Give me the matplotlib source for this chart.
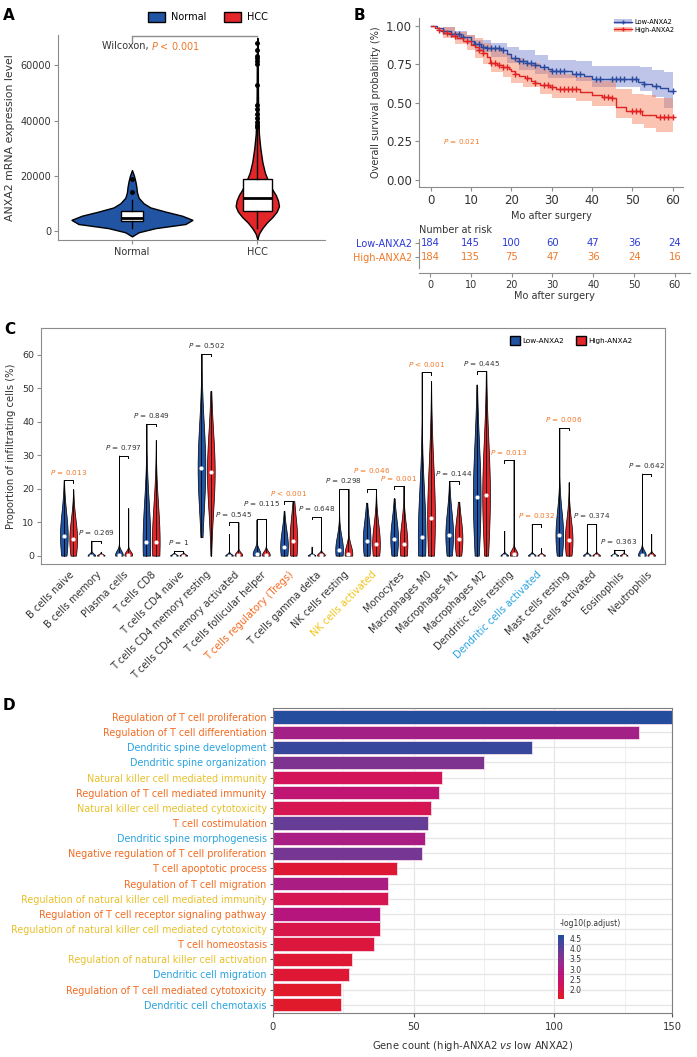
import numpy as np
import matplotlib
matplotlib.use('Agg')
import matplotlib.pyplot as plt
from matplotlib.patches import Patch
from matplotlib.lines import Line2D
from matplotlib.colors import LinearSegmentedColormap, Normalize
import matplotlib.cm as cm

plt.rcParams['font.family'] = ['DejaVu Sans']
plt.rcParams['mathtext.fontset'] = 'dejavusans'

# ---------------- data ----------------
# Panel A
a_groups = ['Normal', 'HCC']
normal_levels = [-2000, -500, 1000, 2500, 4000, 5500, 7000, 8500, 10000, 12000, 14000, 16000, 18000, 20000, 22000]
normal_halfw = [0, 0.053, 0.187, 0.427, 0.483, 0.40, 0.267, 0.147, 0.093, 0.053, 0.040, 0.035, 0.027, 0.016, 0]
hcc_levels = [-3000, -1000, 1000, 3000, 5000, 7000, 9000, 11000, 13000, 15000, 18000, 21000, 25000,
              30000, 35000, 40000, 50000, 60000, 70000]
hcc_halfw = [0, 0.013, 0.04, 0.075, 0.12, 0.155, 0.173, 0.165, 0.147, 0.12, 0.088, 0.061, 0.04,
             0.024, 0.013, 0.008, 0.005, 0.004, 0]
normal_box = dict(q1=3600, med=4600, q3=7350, whislo=1200, whishi=11200, fliers=[14000, 18700])
hcc_box = dict(q1=7350, med=12050, q3=18800, whislo=1200, whishi=36500,
               fliers=[37500, 38500, 39500, 41000, 42500, 44000, 45500, 53000, 60500, 61500, 62500, 63500, 65500, 68000])

# Panel B (Kaplan-Meier)
low_t = [0, 1.5, 3, 5, 7.5, 10, 10.8, 12.5, 14, 17.5, 19, 20, 22, 24, 26, 27, 29, 30, 35, 38, 40, 51.5, 53, 55, 57, 59, 60]
low_s = [1.0, 0.985, 0.965, 0.945, 0.925, 0.90, 0.88, 0.865, 0.853, 0.84, 0.815, 0.79, 0.77, 0.758, 0.745,
         0.733, 0.72, 0.708, 0.69, 0.675, 0.655, 0.637, 0.625, 0.609, 0.594, 0.577, 0.577]
high_t = [0, 1, 2, 3, 5, 6.5, 8, 10, 11, 12, 13, 14, 14.8, 16.5, 18, 19.5, 20, 21, 22, 23.5, 25, 26, 27, 29.5,
          31, 37, 40, 42.5, 45, 46, 48.5, 52.5, 56, 60]
high_s = [1.0, 0.985, 0.97, 0.95, 0.935, 0.92, 0.90, 0.875, 0.86, 0.84, 0.82, 0.80, 0.76, 0.745, 0.734, 0.72,
          0.705, 0.685, 0.675, 0.66, 0.645, 0.63, 0.616, 0.605, 0.588, 0.572, 0.551, 0.54, 0.534, 0.475, 0.45,
          0.42, 0.41, 0.41]
low_ci_t = [0, 3, 6, 9, 11, 15, 19, 22, 26, 29, 36, 40, 52, 55, 58, 60]
low_ci_up = [1.0, 0.99, 0.965, 0.94, 0.91, 0.89, 0.86, 0.84, 0.81, 0.78, 0.77, 0.74, 0.73, 0.71, 0.70, 0.70]
low_ci_lo = [1.0, 0.94, 0.91, 0.88, 0.83, 0.80, 0.76, 0.71, 0.69, 0.66, 0.64, 0.60, 0.58, 0.54, 0.47, 0.47]
high_ci_t = [0, 3, 6, 9, 11, 13, 15, 18, 20, 23, 27, 30, 36, 40, 46, 50, 53, 56, 60]
high_ci_up = [1.0, 0.99, 0.96, 0.94, 0.92, 0.89, 0.85, 0.82, 0.79, 0.76, 0.72, 0.69, 0.67, 0.64, 0.59, 0.56, 0.55, 0.53, 0.53]
high_ci_lo = [1.0, 0.92, 0.88, 0.84, 0.79, 0.75, 0.70, 0.67, 0.63, 0.60, 0.56, 0.53, 0.51, 0.48, 0.40, 0.36, 0.34, 0.31, 0.31]
low_cens = [3, 5, 6, 7, 8, 11, 12, 13, 14, 15, 16, 17, 18, 21, 22, 23, 24, 25, 26, 28, 30, 31, 32, 33, 36, 37,
            41, 42, 45, 46, 47, 48, 50, 51, 53, 56, 60]
high_cens = [2, 4, 6, 9, 12, 13, 15, 16, 17, 18, 19, 21, 24, 26, 28, 29, 30, 32, 33, 34, 35, 36, 43, 44, 45,
             50, 51, 52, 57, 58, 59, 60]
risk_times = [0, 10, 20, 30, 40, 50, 60]
risk_low = [184, 145, 100, 60, 47, 36, 24]
risk_high = [184, 135, 75, 47, 36, 24, 16]

# Panel C
cells = ['B cells naive', 'B cells memory', 'Plasma cells', 'T cells CD8', 'T cells CD4 naive',
         'T cells CD4 memory resting', 'T cells CD4 memory activated', 'T cells follicular helper',
         'T cells regulatory (Tregs)', 'T cells gamma delta', 'NK cells resting', 'NK cells activated',
         'Monocytes', 'Macrophages M0', 'Macrophages M1', 'Macrophages M2', 'Dendritic cells resting',
         'Dendritic cells activated', 'Mast cells resting', 'Mast cells activated', 'Eosinophils', 'Neutrophils']
low_top = [22.6, 4.5, 29.9, 39.4, 1.5, 60.3, 6.5, 10.8, 13.4, 2.7, 19.1, 15.8, 17.1, 54.9, 22.2, 51.1, 7.4, 9.5,
           38.2, 9.2, 1.8, 24.5]
high_top = [19.8, 1.2, 14.1, 34.5, 1.0, 49.2, 10.0, 10.8, 16.3, 11.6, 20.0, 19.8, 20.8, 52.1, 16.1, 55.2, 28.6,
            2.2, 21.9, 9.5, 1.8, 6.5]
low_bot = [0, 0, 0, 0, 0, 5.5, 0, 0, 0, 0, 0, 0, 0, 0, 0, 0, 0, 0, 0, 0, 0, 0]
low_med = [6.0, 0, 0.3, 4.0, 0, 26.3, 0, 0.5, 2.7, 0, 1.7, 4.5, 5.0, 5.7, 6.2, 17.4, 0, 0, 6.2, 0, 0, 0.3]
high_med = [4.9, 0, 0.3, 4.2, 0, 25.1, 0.2, 0.3, 4.5, 0.2, 0.6, 3.5, 3.4, 11.2, 5.1, 18.1, 0.5, 0, 4.7, 0, 0, 0]
low_sd = [7, 0.6, 1.2, 12, 0.4, 13, 0.5, 1.5, 5, 0.4, 4, 6, 6, 14, 7, 16, 0.5, 0.5, 7, 0.5, 0.4, 1.2]
high_sd = [6, 0.4, 1.0, 11, 0.4, 12, 0.8, 1.0, 7, 0.6, 2.5, 6, 6, 16, 6, 16, 1.2, 0.4, 6, 0.5, 0.4, 0.6]
p_labels = ['0.013', '0.269', '0.797', '0.849', '1', '0.502', '0.545', '0.115', '< 0.001', '0.648', '0.298',
            '0.046', '0.001', '< 0.001', '0.144', '0.445', '0.013', '0.032', '0.006', '0.374', '0.363', '0.642']
cell_label_colors = {8: '#f26b21', 11: '#f0c419', 17: '#29a3e0'}

# Panel D
terms = ['Regulation of T cell proliferation', 'Regulation of T cell differentiation', 'Dendritic spine development',
         'Dendritic spine organization', 'Natural killer cell mediated immunity',
         'Regulation of T cell mediated immunity', 'Natural killer cell mediated cytotoxicity',
         'T cell costimulation', 'Dendritic spine morphogenesis', 'Negative regulation of T cell proliferation',
         'T cell apoptotic process', 'Regulation of T cell migration',
         'Regulation of natural killer cell mediated immunity', 'Regulation of T cell receptor signaling pathway',
         'Regulation of natural killer cell mediated cytotoxicity', 'T cell homeostasis',
         'Regulation of natural killer cell activation', 'Dendritic cell migration',
         'Regulation of T cell mediated cytotoxicity', 'Dendritic cell chemotaxis']
gene_count = [150, 130, 92, 75, 60, 59, 56, 55, 54, 53, 44, 41, 41, 38, 38, 36, 28, 27, 24, 24]
neglog_padj = [4.6, 3.1, 4.4, 3.6, 2.2, 2.6, 2.1, 3.9, 3.0, 3.7, 1.8, 3.0, 2.1, 2.8, 2.0, 1.9, 1.8, 1.8, 1.7, 1.7]
term_group = ['T', 'T', 'D', 'D', 'N', 'T', 'N', 'T', 'D', 'T', 'T', 'T', 'N', 'T', 'N', 'T', 'N', 'D', 'T', 'D']

# ---------------- style ----------------
BLUE = '#2154a3'
RED = '#e3262a'
ORANGE = '#f07828'
GRAY = '#8c8c8c'
TXT = '#333333'
group_colors = {'T': '#f26b21', 'D': '#29a3e0', 'N': '#e8c02a'}

W, H = 697, 1057
fig = plt.figure(figsize=(W / 100, H / 100), dpi=100)


def ax_px(l, t, r, b):
    return fig.add_axes([l / W, 1 - b / H, (r - l) / W, (b - t) / H])


for lab, x, y in [('A', 9, 15), ('B', 359, 15), ('C', 10, 330), ('D', 9, 706)]:
    fig.text(x / W, 1 - y / H, lab, fontsize=11, fontweight='bold', ha='center', va='center')

# ---------------- Panel A ----------------
axA = ax_px(58, 35, 325, 240)
for i, (lv, hw, col) in enumerate([(normal_levels, normal_halfw, BLUE), (hcc_levels, hcc_halfw, RED)]):
    yy = np.linspace(lv[0], lv[-1], 300)
    ww = np.interp(yy, lv, hw)
    axA.fill_betweenx(yy, i + 1 - ww, i + 1 + ww, facecolor=col, edgecolor='black', lw=1.0, zorder=2)
stats = []
for bx, lab in [(normal_box, 'Normal'), (hcc_box, 'HCC')]:
    d = dict(bx)
    d['label'] = lab
    stats.append(d)
axA.bxp(stats, positions=[1, 2], widths=[0.17, 0.23], showcaps=False, patch_artist=True,
        boxprops=dict(facecolor='white', edgecolor='black', lw=1.0),
        medianprops=dict(color='black', lw=2.0),
        whiskerprops=dict(color='black', lw=1.0),
        flierprops=dict(marker='o', markerfacecolor='black', markeredgecolor='black', markersize=2.5),
        zorder=3)
axA.set_xlim(0.41, 2.54)
axA.set_ylim(-3300, 71000)
axA.set_yticks([0, 20000, 40000, 60000])
axA.set_xticks([1, 2])
axA.set_xticklabels(a_groups)
for s in ['top', 'right']:
    axA.spines[s].set_visible(False)
for s in ['left', 'bottom']:
    axA.spines[s].set_color(GRAY)
axA.tick_params(colors=GRAY, labelcolor=TXT, labelsize=7, length=3, pad=2)
axA.set_ylabel('ANXA2 mRNA expression level', fontsize=7.8, color=TXT, labelpad=4)
axA.plot([1, 1, 2], [68400, 70700, 70700], color=GRAY, lw=1.0, clip_on=False)
axA.text(1.154, 66860, 'Wilcoxon, ', ha='right', va='center', fontsize=7, color=TXT)
axA.text(1.154, 66860, '$P$ < 0.001', ha='left', va='center', fontsize=7, color=ORANGE)
fig.legend(handles=[Patch(facecolor=BLUE, edgecolor='black', label='Normal'),
                    Patch(facecolor=RED, edgecolor='black', label='HCC')],
           loc='center', bbox_to_anchor=(208 / W, 1 - 17 / H), ncol=2, frameon=False, fontsize=7,
           handlelength=1.75, handleheight=1.35, columnspacing=1.8, handletextpad=0.6)

# ---------------- Panel B ----------------
axB = ax_px(419, 18, 683, 187)
for t, s, ct, cu, cl, cens, col, fcol in [
        (low_t, low_s, low_ci_t, low_ci_up, low_ci_lo, low_cens, '#2a4aa0', '#6f7fd0'),
        (high_t, high_s, high_ci_t, high_ci_up, high_ci_lo, high_cens, '#e02222', '#f47a55')]:
    axB.fill_between(ct, cl, cu, step='post', color=fcol, alpha=0.45, lw=0)
    axB.step(t, s, where='post', color=col, lw=1.0)
    ci = np.searchsorted(t, cens, side='right') - 1
    axB.plot(cens, np.array(s)[ci], '+', color=col, ms=4, mew=1.0)
axB.set_xlim(-2.9, 62.6)
axB.set_ylim(-0.045, 1.05)
axB.set_xticks(risk_times)
axB.set_yticks([0, 0.25, 0.5, 0.75, 1.0])
axB.set_yticklabels(['0.00', '0.25', '0.50', '0.75', '1.00'])
for s in ['top', 'right']:
    axB.spines[s].set_visible(False)
for s in ['left', 'bottom']:
    axB.spines[s].set_color(GRAY)
axB.tick_params(colors=GRAY, labelcolor=TXT, labelsize=8.5, length=3, pad=2)
axB.set_ylabel('Overall survival probability (%)', fontsize=7, color=TXT, labelpad=4)
axB.set_xlabel('Mo after surgery', fontsize=7, color=TXT, labelpad=3)
axB.text(3, 0.25, '$P$ = 0.021', fontsize=5.2, color=ORANGE, va='center')
hl = (Patch(facecolor='#6f7fd0', alpha=0.45), Line2D([], [], color='#2a4aa0', marker='+', lw=1, ms=3))
hh = (Patch(facecolor='#f47a55', alpha=0.45), Line2D([], [], color='#e02222', marker='+', lw=1, ms=3))
axB.legend([hl, hh], ['Low-ANXA2', 'High-ANXA2'], loc='upper right', bbox_to_anchor=(0.99, 1.03),
           fontsize=4.8, frameon=False, handlelength=2.6, handletextpad=0.4, labelspacing=0.25)

axT = ax_px(419, 235, 690, 273)
for t, a, b in zip(risk_times, risk_low, risk_high):
    axT.text(t, 1, str(a), ha='center', va='center', fontsize=7.2, color='#2a3ad6')
    axT.text(t, 0, str(b), ha='center', va='center', fontsize=7.2, color=ORANGE)
axT.set_xlim(-2.7, 63.7)
axT.set_ylim(-1.12, 1.57)
axT.set_yticks([1, 0])
axT.set_yticklabels(['Low-ANXA2', 'High-ANXA2'])
axT.set_xticks(risk_times)
for s in ['top', 'right']:
    axT.spines[s].set_visible(False)
for s in ['left', 'bottom']:
    axT.spines[s].set_color(GRAY)
axT.spines['left'].set_bounds(-0.8, 1.3)
axT.tick_params(colors=GRAY, labelsize=7, length=3, pad=2)
axT.tick_params(axis='x', labelcolor=TXT)
for tl, c in zip(axT.get_yticklabels(), ['#2a3ad6', ORANGE]):
    tl.set_color(c)
axT.set_xlabel('Mo after surgery', fontsize=7, color=TXT, labelpad=1)
axT.set_title('Number at risk', loc='left', fontsize=7, color=TXT, pad=1)

# ---------------- Panel C ----------------
axC = ax_px(41, 328, 665, 564)
off = 0.17
VW = 0.14


def cviolin(x, bot, top, med, sd, col):
    v = np.linspace(bot, top, 200)
    w = VW * np.exp(-0.5 * ((v - med) / sd) ** 2)
    axC.fill_betweenx(v, x - w, x + w, facecolor=col, edgecolor='black', lw=0.5, zorder=2)
    axC.plot([x, x], [bot, top], color='black', lw=0.6, zorder=3)
    axC.plot(x, med, 'o', color='white', ms=3, mec='none', zorder=4)


prev_label_y = -100.0
for i in range(len(cells)):
    xl, xh = i - off, i + off
    cviolin(xl, low_bot[i], low_top[i], low_med[i], low_sd[i], BLUE)
    cviolin(xh, 0, high_top[i], high_med[i], high_sd[i], RED)
    yb = max(low_top[i], high_top[i])
    axC.plot([xl, xl, xh, xh], [yb - 0.8, yb, yb, yb - 0.8], color='black', lw=0.7)
    p = p_labels[i]
    sig = p.startswith('<') or float(p) < 0.05
    sep = ' ' if p.startswith('<') else ' = '
    ly = yb + 1.0
    if abs(ly - prev_label_y) < 2.1:   # avoid collision with the neighbouring label
        ly = prev_label_y + 3.2
    prev_label_y = ly
    axC.text(i, ly, '$P$' + sep + p, ha='center', va='bottom', fontsize=5.2,
             color=ORANGE if sig else TXT)
axC.set_xlim(-1.0, len(cells) - 1 + 0.67)
axC.set_ylim(-2.5, 68)
axC.set_xticks(range(len(cells)))
axC.set_xticklabels(cells, rotation=45, ha='right', rotation_mode='anchor', fontsize=7)
axC.tick_params(axis='x', length=0, pad=4)
axC.set_yticks([0, 10, 20, 30, 40, 50, 60])
axC.tick_params(axis='y', colors=GRAY, labelcolor=TXT, labelsize=6.8, length=3, pad=2)
for i, tl in enumerate(axC.get_xticklabels()):
    tl.set_color(cell_label_colors.get(i, TXT))
for s in axC.spines.values():
    s.set_color(GRAY)
axC.set_ylabel('Proportion of infiltrating cells (%)', fontsize=7.2, color=TXT, labelpad=4)
axC.legend(handles=[Patch(facecolor=BLUE, edgecolor='black', label='Low-ANXA2'),
                    Patch(facecolor=RED, edgecolor='black', label='High-ANXA2')],
           loc='center', bbox_to_anchor=((571 - 41) / 624, 1 - (340.5 - 328) / 236), ncol=2, frameon=False,
           fontsize=5.2, handlelength=1.4, handleheight=1.4, columnspacing=1.6, handletextpad=0.3)

# ---------------- Panel D ----------------
axD = ax_px(273, 708, 672, 1013)
cmap = LinearSegmentedColormap.from_list('padj', ['#e41a1c', '#d4145a', '#b8157e', '#8e2e8e', '#5b3f98', '#1f4e9e'])
norm = Normalize(vmin=1.55, vmax=4.65)
ypos = np.arange(len(terms))
axD.set_axisbelow(True)
axD.barh(ypos, gene_count, height=0.88, color=cmap(norm(neglog_padj)), edgecolor='#f6dbe8', lw=0.6)
xmax = 141.8
axD.set_xlim(0, xmax)
axD.set_ylim(len(terms) - 0.45, -0.6)
axD.set_yticks(ypos)
axD.set_yticklabels(terms, fontsize=6.9)
axD.set_xticks([0, 50, 100, xmax])
axD.set_xticklabels(['0', '50', '100', '150'])
axD.set_xticks([25, 75, 125], minor=True)
axD.grid(True, which='major', axis='both', color='#e6e6ea', lw=0.9)
axD.grid(True, which='minor', axis='x', color='#efeff2', lw=0.7)
axD.tick_params(axis='x', which='minor', length=0)
axD.tick_params(axis='x', colors='#555555', labelcolor=TXT, labelsize=7.2, length=3)
axD.tick_params(axis='y', colors='#555555', length=2.5, pad=2)
for tl, g in zip(axD.get_yticklabels(), term_group):
    tl.set_color(group_colors[g])
for s in axD.spines.values():
    s.set_color('#7f7f7f')
axD.set_xlabel('Gene count (high-ANXA2 $\\mathit{vs}$ low ANXA2)', fontsize=7.2, color=TXT, labelpad=5)

cax = ax_px(558, 935, 564, 999)
cb = fig.colorbar(cm.ScalarMappable(norm=norm, cmap=cmap), cax=cax)
cb.set_ticks([2.0, 2.5, 3.0, 3.5, 4.0, 4.5])
cb.set_ticklabels(['2.0', '2.5', '3.0', '3.5', '4.0', '4.5'])
cb.outline.set_visible(False)
cax.tick_params(labelsize=5.5, length=2, color='white', labelcolor=TXT, pad=2)
fig.text(590 / W, 1 - 924 / H, '-log10(p.adjust)', fontsize=5.5, ha='center', va='center', color=TXT)

fig.savefig('out.png', dpi=100)
